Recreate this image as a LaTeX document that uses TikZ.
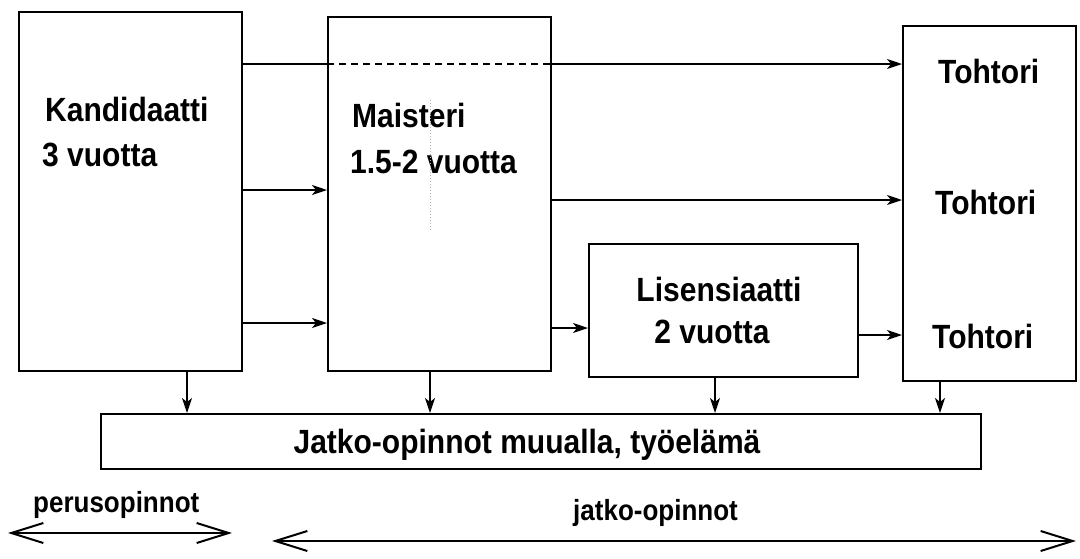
\documentclass[tikz,border=0pt]{standalone}
\usepackage{fontspec}
\usepackage{graphicx}
\setmainfont{Liberation Sans}
\usetikzlibrary{arrows.meta}
\newcommand{\talltext}[1]{\scalebox{1}[1.12]{#1}}
\begin{document}
\begin{tikzpicture}[x=1pt,y=-1pt,
  box/.style={draw,line width=1.9pt,inner sep=0pt,anchor=north west},
  lbl/.style={inner sep=0pt,font=\bfseries\fontsize{30}{36}\selectfont},
  small/.style={inner sep=0pt,font=\bfseries\fontsize{26}{30}\selectfont},
  conn/.style={line width=1.6pt},
  arr/.style={line width=1.6pt,-{Stealth[length=15pt,width=10pt,inset=4pt]}},
  span/.style={line width=2pt,{Straight Barb[length=32pt,width=20pt,line width=2pt]}-{Straight Barb[length=32pt,width=20pt,line width=2pt]}}]
\useasboundingbox (0,0) rectangle (1080,558);
% boxes
\node[box,minimum width=223pt,minimum height=359pt] (kand) at (18,11) {};
\node[box,minimum width=223pt,minimum height=354pt] (mais) at (327,16) {};
\node[box,minimum width=269pt,minimum height=133pt] (lis) at (588,243) {};
\node[box,minimum width=173pt,minimum height=355pt] (toh) at (902,25) {};
\node[box,minimum width=880pt,minimum height=55pt] (jatko) at (100,413) {};
% texts
\node[lbl,anchor=base west] (tk1) at (45,121) {\talltext{Kandidaatti}};
\node[lbl,anchor=base west] (tk2) at (42,166) {\talltext{3 vuotta}};
\node[lbl,anchor=base west] (tm1) at (352,127) {\talltext{Maisteri}};
\node[lbl,anchor=base west] (tm2) at (350,173) {\talltext{1.5-2 vuotta}};
\node[lbl,anchor=base] (tl1) at (719,301) {\talltext{Lisensiaatti}};
\node[lbl,anchor=base] (tl2) at (712,343) {\talltext{2 vuotta}};
\node[lbl,anchor=base west] (tt1) at (938,83) {\talltext{Tohtori}};
\node[lbl,anchor=base west] (tt2) at (935,214) {\talltext{Tohtori}};
\node[lbl,anchor=base west] (tt3) at (932,348) {\talltext{Tohtori}};
\node[lbl,anchor=base] (tj) at (527,453) {\talltext{Jatko-opinnot muualla, työelämä}};
\node[small,anchor=base west] (tp) at (33,512) {\talltext{perusopinnot}};
\node[small,anchor=base west] (tja) at (573,520) {\talltext{jatko-opinnot}};
% faint dotted mark in Maisteri box
\coordinate (d1) at (430,100);
\coordinate (d2) at (430,230);
\draw[gray!60,dotted,line width=1pt] (d1) -- (d2);
% helper levels
\coordinate (y1) at (0,64);
\coordinate (y2) at (0,190);
\coordinate (y3) at (0,323);
\coordinate (y4) at (0,200);
\coordinate (y5) at (0,328);
\coordinate (y6) at (0,335);
% top arrow (dashed through Maisteri)
\draw[conn] (kand.east |- y1) -- (mais.west |- y1);
\draw[conn,dash pattern=on 7pt off 5pt] (mais.west |- y1) -- (mais.east |- y1);
\draw[arr] (mais.east |- y1) -- (toh.west |- y1);
% horizontal arrows
\draw[arr] (kand.east |- y2) -- (mais.west |- y2);
\draw[arr] (kand.east |- y3) -- (mais.west |- y3);
\draw[arr] (mais.east |- y4) -- (toh.west |- y4);
\draw[arr] (mais.east |- y5) -- (lis.west |- y5);
\draw[arr] (lis.east |- y6) -- (toh.west |- y6);
% down arrows
\coordinate (x1) at (187,0);
\coordinate (x2) at (430,0);
\coordinate (x3) at (715,0);
\coordinate (x4) at (940,0);
\draw[arr] (kand.south -| x1) -- (jatko.north -| x1);
\draw[arr] (mais.south -| x2) -- (jatko.north -| x2);
\draw[arr] (lis.south -| x3) -- (jatko.north -| x3);
\draw[arr] (toh.south -| x4) -- (jatko.north -| x4);
% span arrows
\coordinate (p1) at (8,533);
\coordinate (p2) at (232,533);
\coordinate (q1) at (272,541);
\coordinate (q2) at (1076,541);
\draw[span] (p1) -- (p2);
\draw[span] (q1) -- (q2);
\end{tikzpicture}
\end{document}
